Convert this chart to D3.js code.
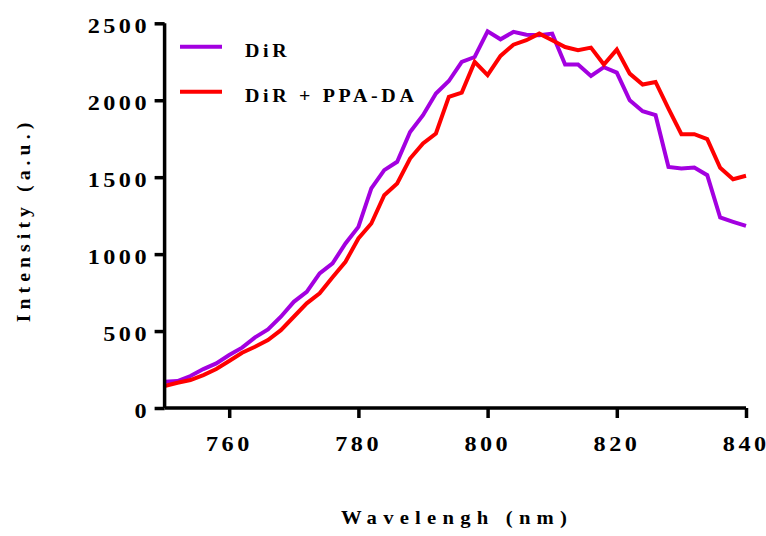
<!DOCTYPE html>
<html><head><meta charset="utf-8">
<script src="https://cdn.jsdelivr.net/npm/d3@7"></script>
<style>body{margin:0;background:#fff}svg{display:block}</style>
</head><body>
<script>
const wavelengths = [750,752,754,756,758,760,762,764,766,768,770,772,774,776,778,780,782,784,786,788,790,792,794,796,798,800,802,804,806,808,810,812,814,816,818,820,822,824,826,828,830,832,834,836,838,840];
const dir = [171,175,208,253,290,344,392,459,511,593,690,755,875,940,1069,1177,1427,1546,1600,1794,1903,2044,2125,2249,2281,2448,2396,2444,2426,2422,2433,2232,2232,2158,2215,2180,2000,1929,1903,1567,1556,1563,1513,1238,1210,1184];
const dirPPA = [143,164,182,214,253,305,359,398,442,506,593,680,745,850,950,1102,1199,1383,1459,1621,1719,1784,2022,2050,2249,2163,2288,2361,2390,2433,2390,2346,2325,2342,2232,2329,2173,2102,2119,1946,1779,1779,1747,1561,1487,1509];
const xTicks = [760,780,800,820,840];
const yTicks = [0,500,1000,1500,2000,2500];
const seriesNames = ["DiR","DiR + PPA-DA"];
const seriesColors = ["#a300e0","#ff0000"];

const W=766,H=536;
const svg=d3.select("body").append("svg").attr("width",W).attr("height",H);
const x=d3.scaleLinear().domain([750,840]).range([164.6,746]);
const y=d3.scaleLinear().domain([0,2500]).range([408,23.3]);
const font="Liberation Serif";

[dir,dirPPA].forEach((vals,i)=>{
  svg.append("path")
    .datum(vals.map((v,j)=>[wavelengths[j],v]))
    .attr("fill","none").attr("stroke",seriesColors[i]).attr("stroke-width",4)
    .attr("stroke-linejoin","miter")
    .attr("d",d3.line().x(d=>x(d[0])).y(d=>y(d[1])));
});

const gx=svg.append("g").attr("transform","translate(0,408)")
  .call(d3.axisBottom(x).tickValues(xTicks).tickSize(10).tickFormat(d3.format("d")));
const gy=svg.append("g").attr("transform","translate(164.6,0)")
  .call(d3.axisLeft(y).tickValues(yTicks).tickSize(10).tickFormat(d3.format("d")));
[gx,gy].forEach(g=>{
  g.attr("font-family",font).attr("font-size",22).attr("font-weight","bold");
  g.select(".domain").attr("stroke","#000").attr("stroke-width",3.5);
  g.selectAll(".tick line").attr("stroke","#000").attr("stroke-width",3.5);
  g.selectAll(".tick text").attr("fill","#000").attr("font-family",font)
    .attr("font-size",22).attr("font-weight","bold").attr("letter-spacing",3.2)
    .attr("x",0).attr("y",0).attr("dy",null);
});
gx.select(".domain").attr("d","M164.6,0H746");
gy.select(".domain").attr("d","M0,23.3V408");
gx.selectAll(".tick text").attr("text-anchor","middle").attr("transform","translate(-0.3,43) scale(1.1,1)");
gy.selectAll(".tick text").attr("text-anchor","end").attr("transform","translate(-14.5,9.6) scale(1.1,1)");

// legend
const leg=svg.append("g");
seriesNames.forEach((n,i)=>{
  const yy=46.7+i*45;
  leg.append("line").attr("x1",180).attr("x2",222).attr("y1",yy).attr("y2",yy)
    .attr("stroke",seriesColors[i]).attr("stroke-width",4);
  leg.append("text").attr("transform",`translate(245,${yy+10.6}) scale(1.05,1)`).text(n)
    .attr("font-family",font).attr("font-size",19).attr("font-weight","bold")
    .attr("letter-spacing",3.5).attr("fill","#000");
});

svg.append("text").attr("transform","translate(457,524.3) scale(1.15,1)").attr("text-anchor","middle")
  .text("Wavelengh (nm)").attr("font-family",font).attr("font-size",18)
  .attr("font-weight","bold").attr("letter-spacing",5.4);
svg.append("text").attr("transform","translate(30,220) rotate(-90) scale(1.1,1)").attr("text-anchor","middle")
  .text("Intensity (a.u.)").attr("font-family",font).attr("font-size",18)
  .attr("font-weight","bold").attr("letter-spacing",4.6);
</script>
</body></html>
